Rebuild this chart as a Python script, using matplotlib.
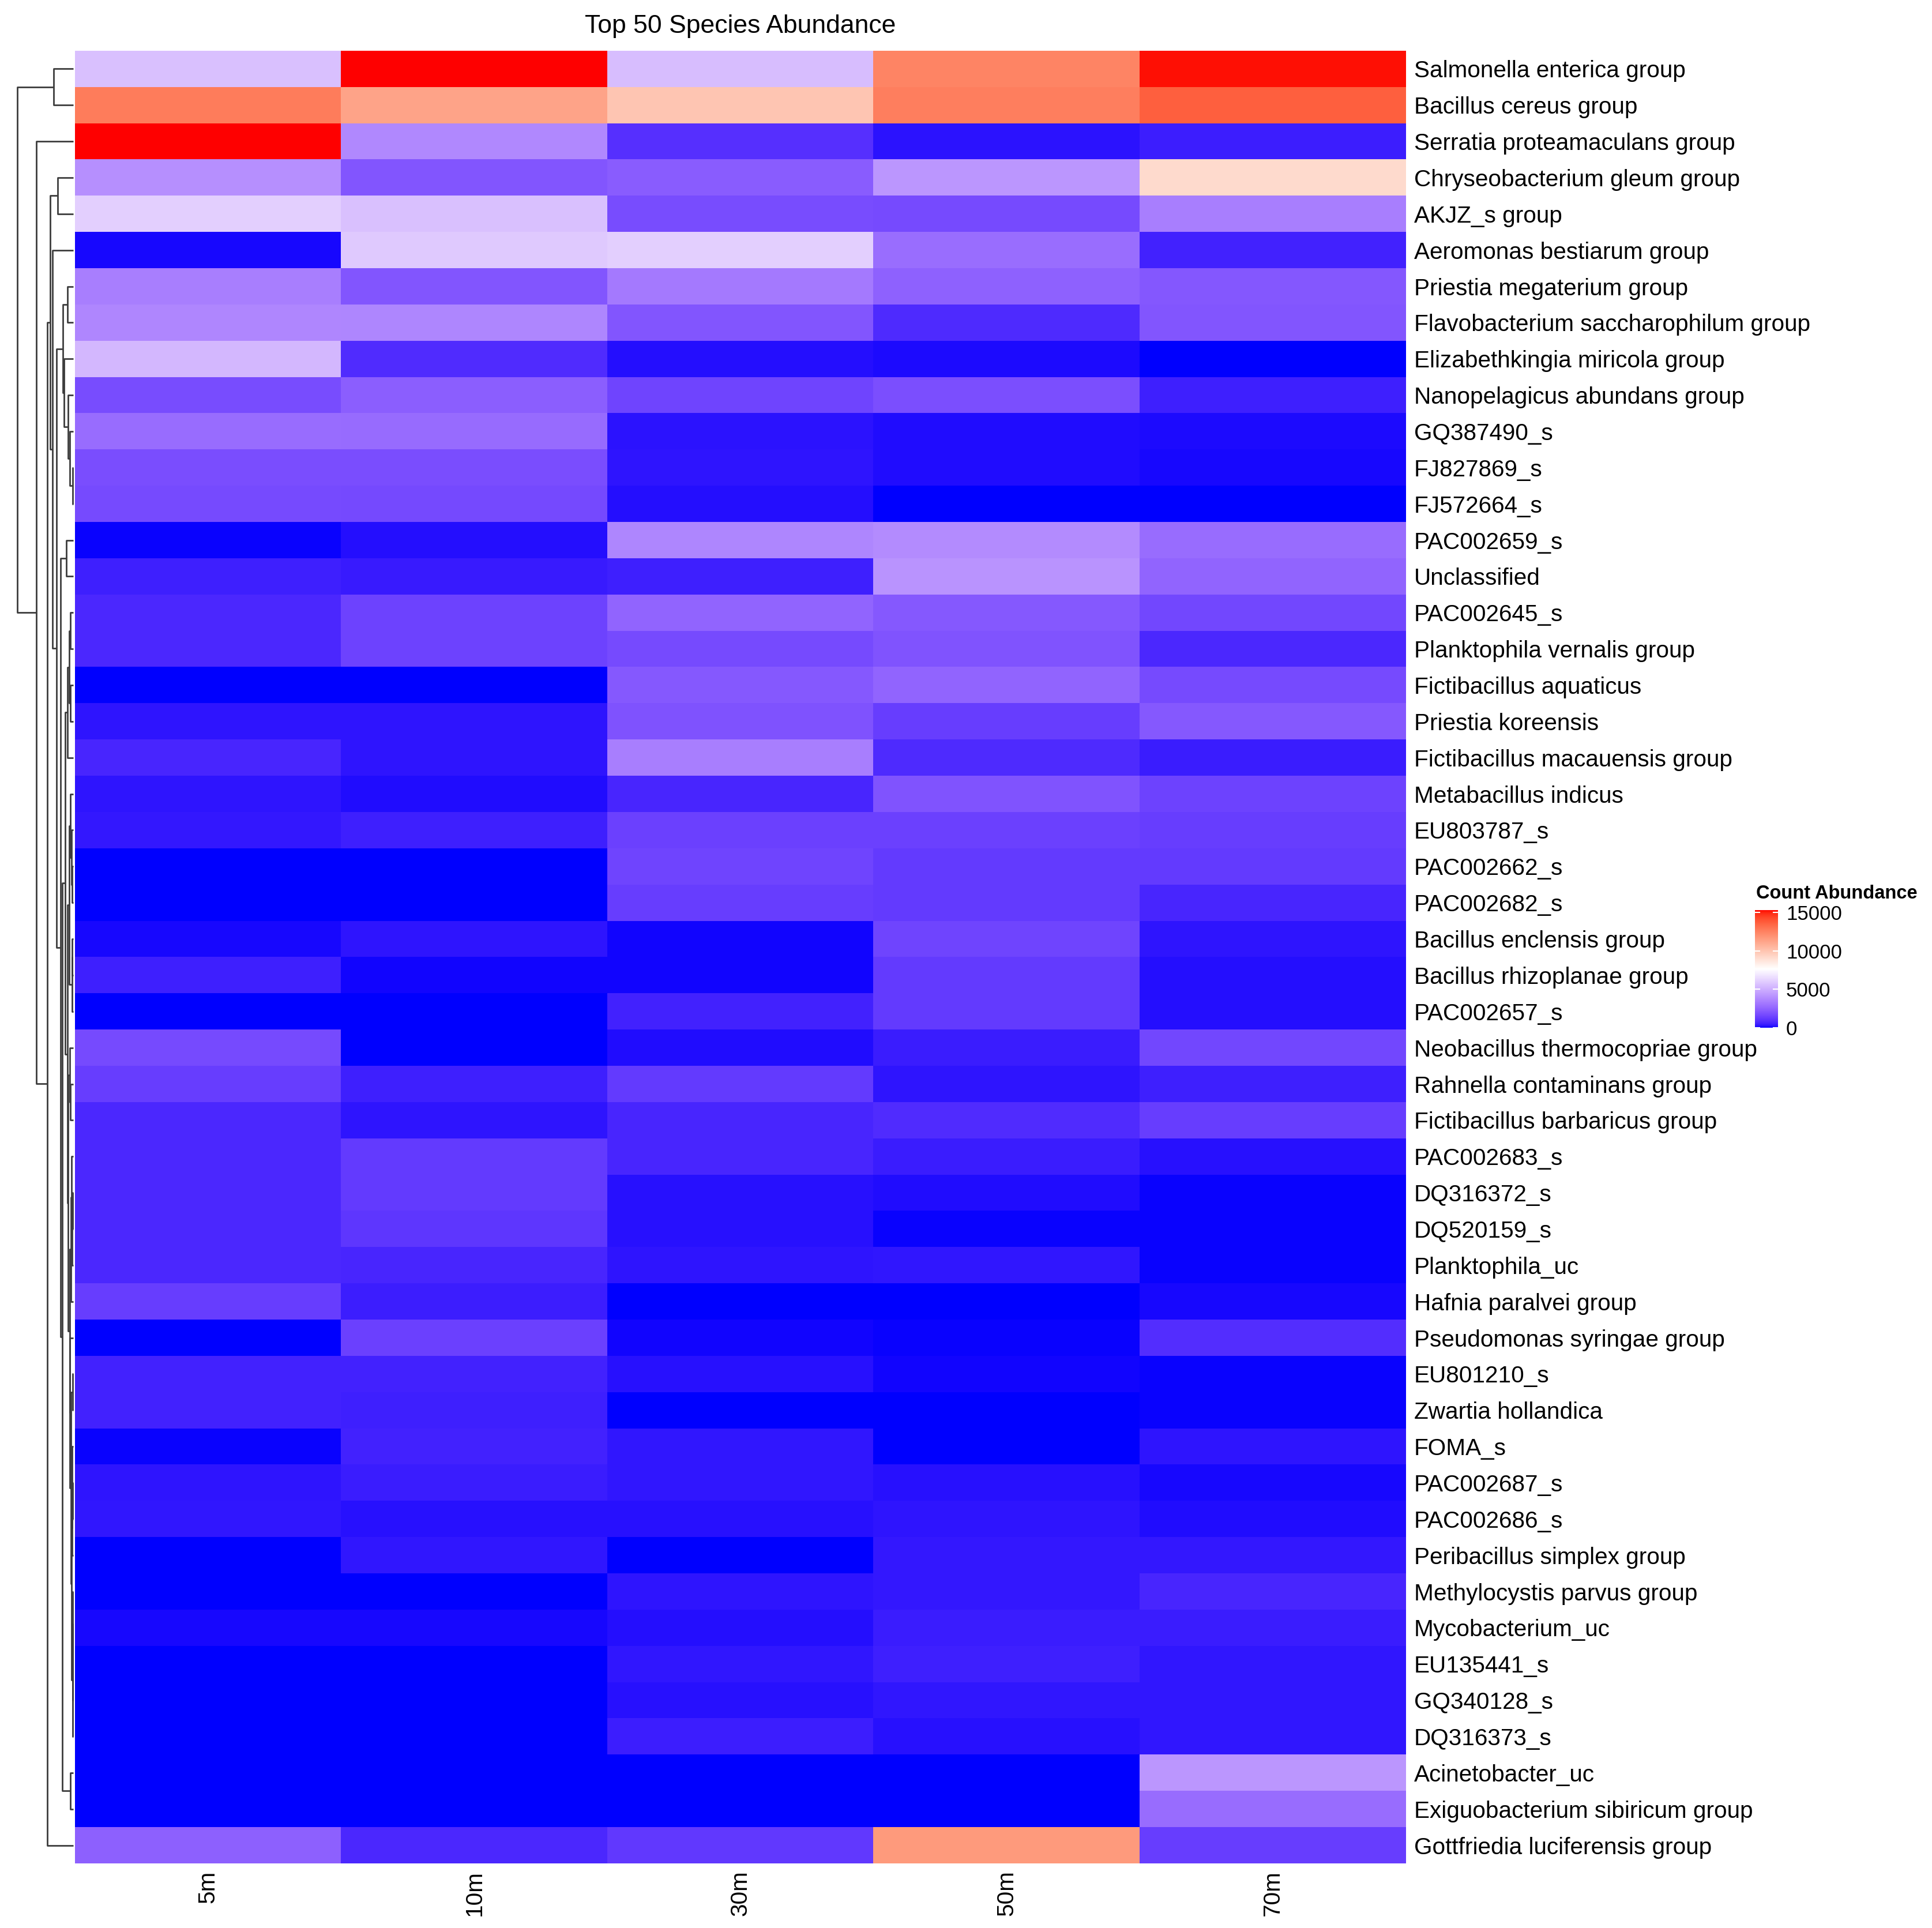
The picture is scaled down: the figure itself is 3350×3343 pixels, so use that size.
import numpy as np
import matplotlib
matplotlib.use('Agg')
import matplotlib.pyplot as plt
from matplotlib.colors import ListedColormap, Normalize

plt.rcParams['font.family'] = ['Liberation Sans', 'DejaVu Sans']

#%% data
species = ['Salmonella enterica group', 'Bacillus cereus group', 'Serratia proteamaculans group',
           'Chryseobacterium gleum group', 'AKJZ_s group', 'Aeromonas bestiarum group',
           'Priestia megaterium group', 'Flavobacterium saccharophilum group',
           'Elizabethkingia miricola group', 'Nanopelagicus abundans group', 'GQ387490_s',
           'FJ827869_s', 'FJ572664_s', 'PAC002659_s', 'Unclassified', 'PAC002645_s',
           'Planktophila vernalis group', 'Fictibacillus aquaticus', 'Priestia koreensis',
           'Fictibacillus macauensis group', 'Metabacillus indicus', 'EU803787_s',
           'PAC002662_s', 'PAC002682_s', 'Bacillus enclensis group', 'Bacillus rhizoplanae group',
           'PAC002657_s', 'Neobacillus thermocopriae group', 'Rahnella contaminans group',
           'Fictibacillus barbaricus group', 'PAC002683_s', 'DQ316372_s', 'DQ520159_s',
           'Planktophila_uc', 'Hafnia paralvei group', 'Pseudomonas syringae group',
           'EU801210_s', 'Zwartia hollandica', 'FOMA_s', 'PAC002687_s', 'PAC002686_s',
           'Peribacillus simplex group', 'Methylocystis parvus group', 'Mycobacterium_uc',
           'EU135441_s', 'GQ340128_s', 'DQ316373_s', 'Acinetobacter_uc',
           'Exiguobacterium sibiricum group', 'Gottfriedia luciferensis group']
depths = ['5m', '10m', '30m', '50m', '70m']

abund_5m = [5600, 12700, 15300, 4000, 6100, 100, 3400, 3700, 5300, 1750,
            2800, 1800, 1700, 30, 480, 700, 700, 20, 280, 650,
            280, 350, 10, 10, 100, 500, 5, 1700, 1300, 700,
            700, 700, 700, 700, 1300, 10, 550, 550, 50, 280,
            300, 10, 5, 100, 0, 0, 0, 0, 0, 2400]
abund_10m = [15300, 11250, 3750, 2050, 5600, 5900, 2050, 3650, 800, 2350,
             2750, 1800, 1650, 180, 400, 1450, 1450, 20, 280, 280,
             150, 500, 10, 10, 280, 80, 5, 10, 500, 280,
             1200, 1200, 1100, 650, 450, 1400, 550, 500, 550, 420,
             220, 300, 5, 100, 0, 0, 0, 0, 0, 700]
abund_30m = [5500, 9950, 900, 2300, 1750, 6100, 3250, 2050, 180, 1500,
             250, 280, 180, 3650, 500, 2550, 1700, 2150, 1950, 3400,
             650, 1400, 1500, 1300, 80, 80, 550, 150, 1200, 650,
             650, 220, 220, 280, 10, 80, 220, 10, 300, 300,
             220, 10, 280, 180, 300, 220, 450, 0, 0, 1150]
abund_50m = [12400, 12600, 250, 4200, 1700, 2850, 2450, 750, 120, 1850,
             150, 150, 10, 3850, 4100, 2150, 2000, 2550, 1300, 750,
             2000, 1400, 1200, 1200, 1500, 1200, 1200, 420, 280, 800,
             420, 150, 50, 300, 10, 30, 80, 10, 10, 220,
             280, 350, 350, 420, 500, 300, 220, 0, 0, 11600]
abund_70m = [15200, 13600, 450, 9100, 3400, 550, 2100, 2050, 20, 500,
             120, 110, 10, 2800, 2550, 1600, 700, 1700, 2150, 420,
             1450, 1300, 1200, 650, 280, 180, 180, 1600, 480, 1300,
             220, 50, 30, 30, 100, 850, 30, 50, 280, 100,
             150, 350, 650, 420, 300, 300, 300, 4200, 2800, 1300]

data = np.array([abund_5m, abund_10m, abund_30m, abund_50m, abund_70m], dtype=float).T


#%% blue-white-red colour ramp interpolated in CIELAB
M = np.array([[0.4124, 0.3576, 0.1805],
              [0.2126, 0.7152, 0.0722],
              [0.0193, 0.1192, 0.9505]])
WHITE = np.array([0.95047, 1.0, 1.08883])


def srgb_to_lab(rgb):
    rgb = np.asarray(rgb, float)
    lin = np.where(rgb <= 0.04045, rgb / 12.92, ((rgb + 0.055) / 1.055) ** 2.4)
    xyz = lin @ M.T / WHITE
    d = 6 / 29
    f = np.where(xyz > d ** 3, np.cbrt(xyz), xyz / (3 * d ** 2) + 4 / 29)
    return np.stack([116 * f[..., 1] - 16,
                     500 * (f[..., 0] - f[..., 1]),
                     200 * (f[..., 1] - f[..., 2])], -1)


def lab_to_srgb(lab):
    fy = (lab[..., 0] + 16) / 116
    f = np.stack([fy + lab[..., 1] / 500, fy, fy - lab[..., 2] / 200], -1)
    d = 6 / 29
    xyz = np.where(f > d, f ** 3, 3 * d ** 2 * (f - 4 / 29)) * WHITE
    lin = np.clip(xyz @ np.linalg.inv(M).T, 0, 1)
    return np.where(lin <= 0.0031308, 12.92 * lin, 1.055 * lin ** (1 / 2.4) - 0.055)


stops = srgb_to_lab(np.array([[0, 0, 1], [1, 1, 1], [1, 0, 0]], float))
t = np.linspace(0, 1, 512)
seg = np.minimum((t * 2).astype(int), 1)
u = (t * 2 - seg)[:, None]
lab = stops[seg] * (1 - u) + stops[seg + 1] * u
cmap = ListedColormap(np.clip(lab_to_srgb(lab), 0, 1))
norm = Normalize(data.min(), data.max())


#%% row clustering (complete linkage, euclidean), kept in the shown row order
def ordered_complete_linkage(X):
    D = np.sqrt(((X[:, None, :] - X[None, :, :]) ** 2).sum(-1))
    nodes = [dict(m=[i], h=0.0, y=float(i)) for i in range(len(X))]
    segs = []
    while len(nodes) > 1:
        best = None
        for k in range(len(nodes) - 1):
            d = D[np.ix_(nodes[k]['m'], nodes[k + 1]['m'])].max()
            if best is None or d < best[0]:
                best = (d, k)
        d, k = best
        a, b = nodes[k], nodes[k + 1]
        h = max(d, a['h'], b['h'])
        segs.append(([a['h'], h, h, b['h']], [a['y'], a['y'], b['y'], b['y']]))
        nodes[k:k + 2] = [dict(m=a['m'] + b['m'], h=h, y=(a['y'] + b['y']) / 2)]
    return segs, nodes[0]['h']


segs, hmax = ordered_complete_linkage(data)

#%% figure
W, H = 3350, 3343
fig = plt.figure(figsize=(W / 100, H / 100), dpi=100)

hm_l, hm_r, hm_t, hm_b = 130, 2438, 88, 3231
ax = fig.add_axes([hm_l / W, 1 - hm_b / H, (hm_r - hm_l) / W, (hm_b - hm_t) / H])
im = ax.imshow(data, cmap=cmap, norm=norm, aspect='auto', interpolation='nearest')
ax.set_xlim(-0.5, len(depths) - 0.5)
ax.set_ylim(len(species) - 0.5, -0.5)
for s in ax.spines.values():
    s.set_visible(False)
ax.set_xticks(range(len(depths)))
ax.set_xticklabels(depths, rotation=90, fontsize=29.2)
ax.yaxis.tick_right()
ax.set_yticks(range(len(species)))
ax.set_yticklabels(species, fontsize=29.2)
ax.tick_params(length=0, axis='y', pad=10)
ax.tick_params(length=0, axis='x', pad=9)
ax.set_title('Top 50 Species Abundance', fontsize=32, pad=22)

# dendrogram
dax = fig.add_axes([30 / W, 1 - hm_b / H, 97 / W, (hm_b - hm_t) / H])
for xs, ys in segs:
    dax.plot(xs, ys, color='#3c3c3c', lw=2.0, solid_capstyle='butt', clip_on=False)
dax.set_xlim(hmax, 0)
dax.set_ylim(len(species) - 0.5, -0.5)
dax.axis('off')

# colour legend
cax = fig.add_axes([3043 / W, 1 - 1782 / H, 40 / W, 204 / H])
cb = fig.colorbar(im, cax=cax, ticks=[0, 5000, 10000, 15000])
cb.outline.set_visible(False)
cax.tick_params(length=0, labelsize=25, pad=10)
for v in [0, 5000, 10000, 15000]:
    cax.plot([0, 0.2], [v, v], color='white', lw=1.5)
    cax.plot([0.8, 1], [v, v], color='white', lw=1.5)
fig.text(3045 / W, 1 - 1550 / H, 'Count Abundance', fontsize=23.5, fontweight='bold',
         ha='left', va='center')

fig.savefig('out.png', dpi=100)
